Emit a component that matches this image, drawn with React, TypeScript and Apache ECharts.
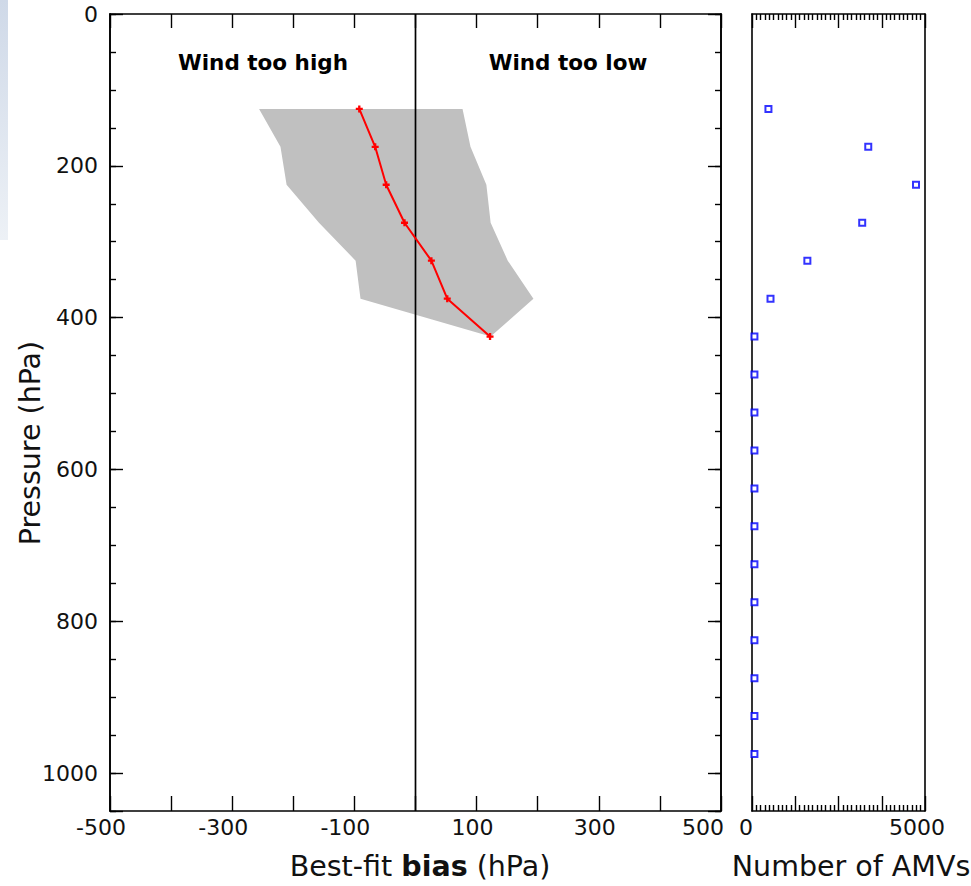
import React, { useEffect, useRef } from "react";
import * as echarts from "echarts";

// Pressure levels (hPa) of the best-fit bias profile
const PRESSURE_LEVELS = [125, 175, 225, 275, 325, 375, 425];
// Mean best-fit bias (hPa)
const BIAS = [-92, -66, -48, -18, 26, 52, 122];
// Spread envelope around the bias (hPa)
const BAND_LOW = [-256, -221, -211, -158, -98, -90, 123];
const BAND_HIGH = [77, 90, 116, 123, 151, 193, 123];

// Number of AMVs per pressure level
const COUNT_LEVELS = [125, 175, 225, 275, 325, 375, 425, 475, 525, 575, 625, 675, 725, 775, 825, 875, 925, 975];
const COUNTS = [475, 3360, 4740, 3185, 1600, 535, 70, 70, 70, 70, 70, 70, 70, 70, 70, 70, 70, 70];

// Tick labels
const BIAS_TICK_LABELS = [-500, -300, -100, 100, 300, 500];
const PRESSURE_TICK_LABELS = [0, 200, 400, 600, 800, 1000];
const COUNT_TICK_LABELS = [0, 5000];

const FONT = "DejaVu Sans";
const INK = "#111111";
const TICK_FONT = 22;
const TITLE_FONT = 28.5;

export default function App() {
  const ref = useRef<HTMLDivElement>(null);

  useEffect(() => {
    if (!ref.current) return;
    const chart = echarts.init(ref.current, null, { renderer: "svg" });

    const tickText = { fontFamily: FONT, fontSize: TICK_FONT, color: INK };
    const labelRich = {
      neg: { ...tickText, padding: [0, 18, 0, 0] },
      pos: { ...tickText, padding: [0, 8, 0, 0] },
      end: { ...tickText, padding: [0, 36, 0, 0] },
      zero: { ...tickText, padding: [0, 12, 0, 0] },
      max: { ...tickText, padding: [0, 16, 0, 0] },
    };

    const axisLine = { show: true, onZero: false, lineStyle: { color: "#000", width: 1.6 } };
    const tickStyle = { color: "#000", width: 1.4 };

    const pMin = 0;
    const pMax = 1050;

    const leftYAxis = (position: string, interval: number, len: number, labels: boolean) => ({
      type: "value",
      gridIndex: 0,
      position,
      inverse: true,
      min: pMin,
      max: pMax,
      interval,
      axisLine,
      splitLine: { show: false },
      axisTick: { show: true, inside: true, length: len, lineStyle: tickStyle },
      axisLabel: labels
        ? {
            show: true,
            margin: 12,
            ...tickText,
            formatter: (v: number) => (PRESSURE_TICK_LABELS.includes(v) ? String(v) : ""),
          }
        : { show: false },
    });

    const option = {
      animation: false,
      backgroundColor: "#ffffff",
      grid: [
        { left: 110, right: 250, top: 14, bottom: 75 },
        { left: 752, right: 46, top: 14, bottom: 75 },
      ],
      xAxis: [
        {
          type: "value",
          gridIndex: 0,
          position: "bottom",
          min: -500,
          max: 500,
          interval: 100,
          axisLine,
          splitLine: { show: false },
          axisTick: { show: true, inside: true, length: 15, lineStyle: tickStyle },
          axisLabel: {
            show: true,
            margin: 5,
            ...tickText,
            rich: labelRich,
            formatter: (v: number) => {
              if (!BIAS_TICK_LABELS.includes(v)) return "";
              if (v === 500) return `{end|${v}}`;
              return v < 0 ? `{neg|${v}}` : `{pos|${v}}`;
            },
          },
        },
        {
          type: "value",
          gridIndex: 0,
          position: "top",
          min: -500,
          max: 500,
          interval: 100,
          axisLine,
          splitLine: { show: false },
          axisTick: { show: true, inside: true, length: 14, lineStyle: tickStyle },
          axisLabel: { show: false },
        },
        {
          type: "value",
          gridIndex: 1,
          position: "bottom",
          min: 0,
          max: 5000,
          interval: 1250,
          axisLine,
          splitLine: { show: false },
          axisTick: { show: true, inside: true, length: 15, lineStyle: tickStyle },
          minorTick: { show: true, splitNumber: 10, length: 6, lineStyle: tickStyle },
          axisLabel: {
            show: true,
            margin: 5,
            ...tickText,
            rich: labelRich,
            formatter: (v: number) => {
              if (!COUNT_TICK_LABELS.includes(v)) return "";
              return v === 0 ? `{zero|${v}}` : `{max|${v}}`;
            },
          },
        },
        {
          type: "value",
          gridIndex: 1,
          position: "top",
          min: 0,
          max: 5000,
          interval: 1250,
          axisLine,
          splitLine: { show: false },
          axisTick: { show: true, inside: true, length: 14, lineStyle: tickStyle },
          minorTick: { show: true, splitNumber: 10, length: 6, lineStyle: tickStyle },
          axisLabel: { show: false },
        },
      ],
      yAxis: [
        leftYAxis("left", 200, 13, true),
        leftYAxis("left", 50, 6, false),
        leftYAxis("right", 200, 13, false),
        leftYAxis("right", 50, 6, false),
        {
          type: "value",
          gridIndex: 1,
          position: "left",
          inverse: true,
          min: pMin,
          max: pMax,
          axisLine,
          splitLine: { show: false },
          axisTick: { show: false },
          axisLabel: { show: false },
        },
        {
          type: "value",
          gridIndex: 1,
          position: "right",
          inverse: true,
          min: pMin,
          max: pMax,
          axisLine,
          splitLine: { show: false },
          axisTick: { show: false },
          axisLabel: { show: false },
        },
      ],
      series: [
        {
          name: "spread",
          type: "custom",
          xAxisIndex: 0,
          yAxisIndex: 0,
          z: 1,
          silent: true,
          data: PRESSURE_LEVELS.map((p, i) => [BAND_LOW[i], p, BAND_HIGH[i]]),
          encode: { x: [0, 2], y: 1 },
          renderItem: (params: any, api: any) => {
            if (params.dataIndex !== 0) return null;
            const pts: number[][] = [];
            PRESSURE_LEVELS.forEach((p, i) => pts.push(api.coord([BAND_LOW[i], p])));
            for (let i = PRESSURE_LEVELS.length - 1; i >= 0; i--) {
              pts.push(api.coord([BAND_HIGH[i], PRESSURE_LEVELS[i]]));
            }
            return { type: "polygon", shape: { points: pts }, style: { fill: "#c0c0c0" } };
          },
        },
        {
          name: "zero",
          type: "line",
          xAxisIndex: 0,
          yAxisIndex: 0,
          z: 2,
          silent: true,
          symbol: "none",
          data: [
            [0, pMin],
            [0, pMax],
          ],
          lineStyle: { color: "#000", width: 1.7 },
        },
        {
          name: "bias",
          type: "line",
          xAxisIndex: 0,
          yAxisIndex: 0,
          z: 3,
          data: PRESSURE_LEVELS.map((p, i) => [BIAS[i], p]),
          lineStyle: { color: "#ff0000", width: 2 },
          symbol: "path://M2,0h2v2h2v2h-2v2h-2v-2h-2v-2h2z",
          symbolSize: 7,
          itemStyle: { color: "#ff0000" },
        },
        {
          name: "count",
          type: "scatter",
          xAxisIndex: 2,
          yAxisIndex: 4,
          z: 3,
          data: COUNT_LEVELS.map((p, i) => [COUNTS[i], p]),
          symbol: "rect",
          symbolSize: 6,
          itemStyle: { color: "#ffffff", borderColor: "#0000ff", borderWidth: 2 },
        },
      ],
      graphic: [
        {
          type: "rect",
          left: 0,
          top: 0,
          z: -10,
          shape: { x: 0, y: 0, width: 8, height: 240 },
          style: {
            fill: new echarts.graphic.LinearGradient(0, 0, 0, 1, [
              { offset: 0, color: "#cfd9e8" },
              { offset: 1, color: "#edf1f6" },
            ]),
          },
        },
        {
          type: "text",
          x: 263,
          y: 62,
          style: {
            text: "Wind too high",
            fontFamily: FONT,
            fontSize: 21.5,
            fontWeight: "bold",
            fill: "#000",
            align: "center",
            verticalAlign: "middle",
          },
        },
        {
          type: "text",
          x: 568,
          y: 62,
          style: {
            text: "Wind too low",
            fontFamily: FONT,
            fontSize: 21.5,
            fontWeight: "bold",
            fill: "#000",
            align: "center",
            verticalAlign: "middle",
          },
        },
        {
          type: "text",
          x: 30,
          y: 443,
          rotation: Math.PI / 2,
          style: {
            text: "Pressure (hPa)",
            fontFamily: FONT,
            fontSize: TITLE_FONT,
            fill: INK,
            align: "center",
            verticalAlign: "middle",
          },
        },
        {
          type: "text",
          x: 420,
          y: 866,
          style: {
            text: "{a|Best-fit }{b|bias}{a| (hPa)}",
            align: "center",
            verticalAlign: "middle",
            rich: {
              a: { fontFamily: FONT, fontSize: TITLE_FONT, fill: INK },
              b: { fontFamily: FONT, fontSize: TITLE_FONT, fontWeight: "bold", fill: INK },
            },
          },
        },
        {
          type: "text",
          x: 851,
          y: 866,
          style: {
            text: "Number of AMVs",
            fontFamily: FONT,
            fontSize: TITLE_FONT,
            fill: INK,
            align: "center",
            verticalAlign: "middle",
          },
        },
      ],
    };

    chart.setOption(option as any);
    return () => chart.dispose();
  }, []);

  return (
    <div
      ref={ref}
      style={{ position: "absolute", left: 0, top: 0, width: 971, height: 886, background: "#fff" }}
    />
  );
}
